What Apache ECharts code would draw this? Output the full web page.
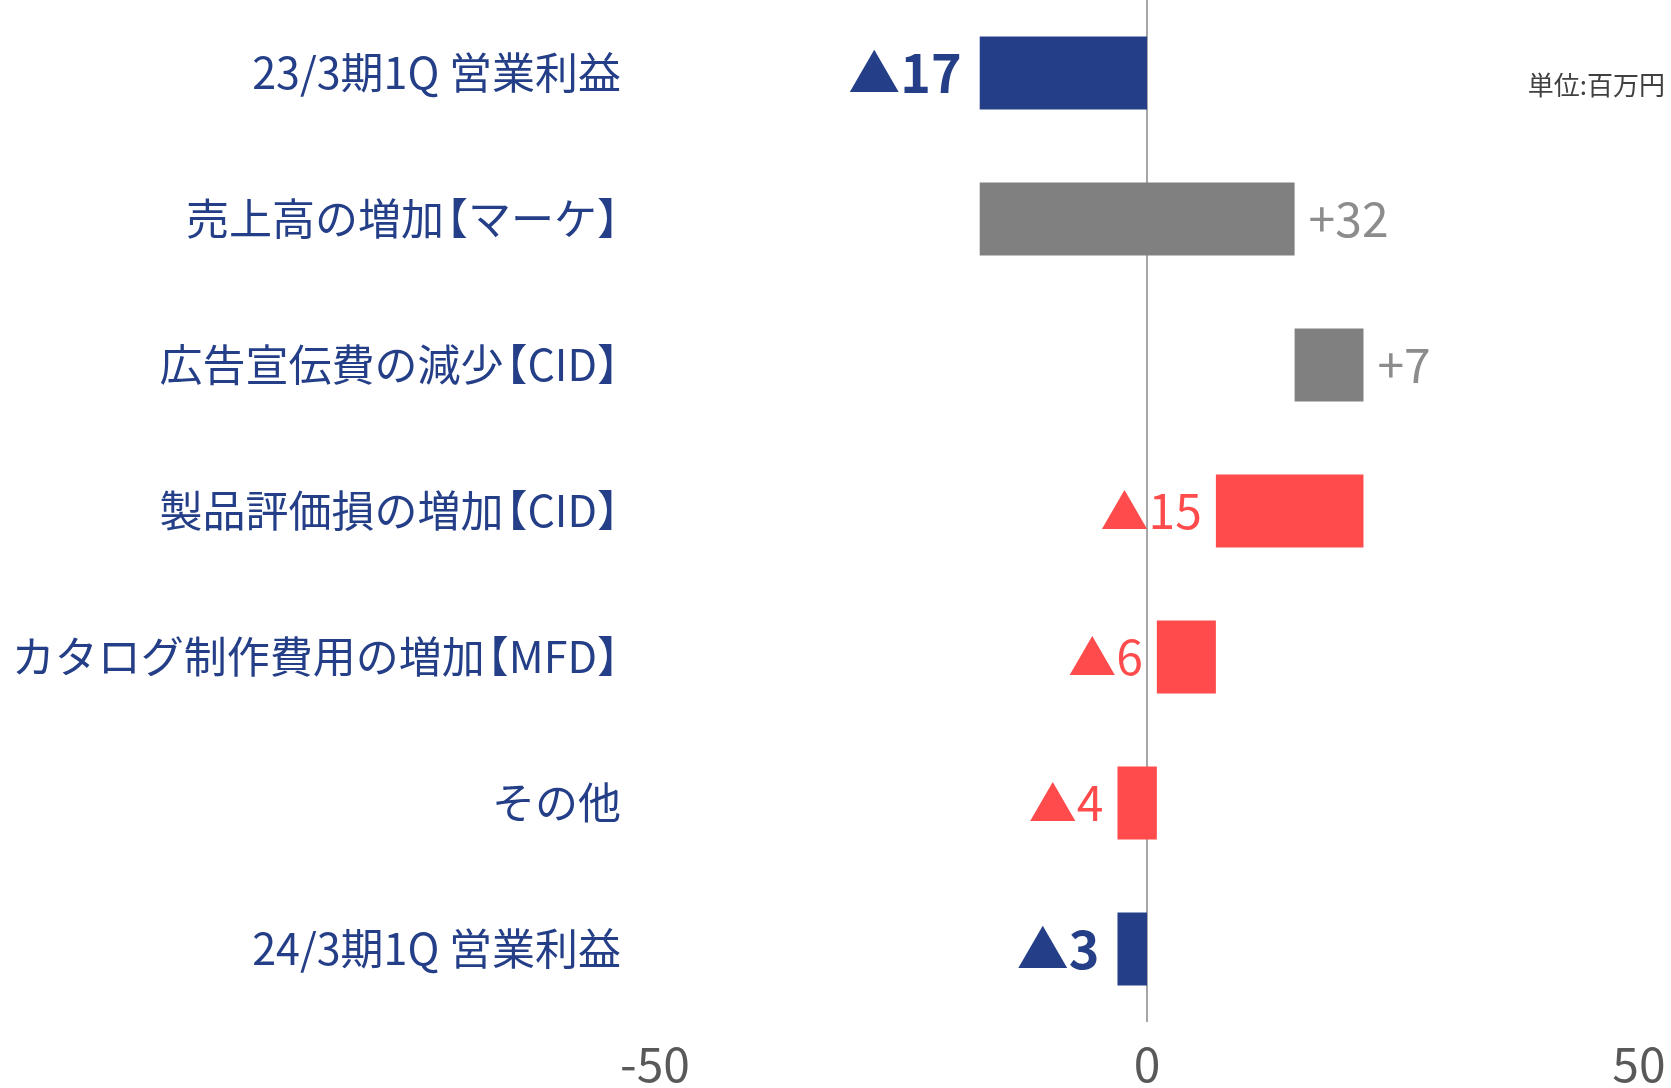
<!DOCTYPE html>
<html>
<head>
<meta charset="utf-8">
<script src="https://cdn.jsdelivr.net/npm/echarts@6/dist/echarts.min.js"></script>
<style>
  html, body { margin: 0; padding: 0; background: #fff; }
  #main { width: 1671px; height: 1088px; }
</style>
</head>
<body>
<div id="main"></div>
<script>
// 項目名
var categories = [
    '23/3期1Q 営業利益',
    '売上高の増加【マーケ】',
    '広告宣伝費の減少【CID】',
    '製品評価損の増加【CID】',
    'カタログ制作費用の増加【MFD】',
    'その他',
    '24/3期1Q 営業利益'
];
// 増減額(百万円)
var changes = [-17, 32, 7, -15, -6, -4, -3];
// total=営業利益, up=増益要因, down=減益要因
var kinds = ['total', 'up', 'up', 'down', 'down', 'down', 'total'];
var xTicks = [-50, 0, 50];

var colors = {total: '#243F87', up: '#808080', down: '#FF4B4B'};
var labelColors = {total: '#243F87', up: '#8C8C8C', down: '#FF4B4B'};
var cjkFont = '"Noto Sans CJK JP", "Noto Sans", sans-serif';
var catSize = 43;

// 積み上げの始点と終点
var rows = [];
var running = 0;
changes.forEach(function (v, i) {
    var start, end;
    if (kinds[i] === 'total') {
        start = 0;
        end = v;
        running = v;
    } else {
        start = running;
        end = running + v;
        running = end;
    }
    var text = v < 0 ? '▲' + Math.abs(v) : '+' + v;
    rows.push([i, start, end, text, kinds[i]]);
});

var myChart = echarts.init(document.getElementById('main'));

function renderItem(params, api) {
    var idx = api.value(0);
    var p1 = api.coord([api.value(1), idx]);
    var p2 = api.coord([api.value(2), idx]);
    var h = api.size([0, 1])[1] * 0.5;
    var kind = rows[params.dataIndex][4];
    var text = rows[params.dataIndex][3];
    var x0 = Math.min(p1[0], p2[0]);
    var x1 = Math.max(p1[0], p2[0]);
    var onLeft = kind !== 'up';
    var gap = kind === 'total' ? 18 : 14;
    return {
        type: 'group',
        children: [{
            type: 'rect',
            shape: {x: x0, y: p1[1] - h / 2, width: x1 - x0, height: h},
            style: {fill: colors[kind]}
        }, {
            type: 'text',
            x: onLeft ? x0 - gap : x1 + gap,
            y: p1[1],
            style: {
                text: text,
                fill: labelColors[kind],
                font: (kind === 'total' ? 'bold 52px ' : 'normal 48px ') + cjkFont,
                align: onLeft ? 'right' : 'left',
                verticalAlign: 'middle'
            }
        }]
    };
}

// 全角括弧の余白を詰める
function tightLabel(value) {
    return value.replace('【', '{lb|【}').replace('】', '{rb|】}');
}

var bracketStyle = {fontSize: catSize, color: '#243F87', fontFamily: cjkFont};
var trim = Math.round(catSize * 0.45);

var option = {
    animation: false,
    title: {
        text: '単位:百万円',
        right: 6,
        top: 72,
        padding: 0,
        textStyle: {
            fontSize: 26,
            fontWeight: 'normal',
            color: '#404040',
            fontFamily: cjkFont
        }
    },
    grid: {
        left: 655,
        right: 32,
        top: 0,
        bottom: 66,
        containLabel: false,
        outerBoundsMode: 'none'
    },
    xAxis: {
        type: 'value',
        min: xTicks[0],
        max: xTicks[xTicks.length - 1],
        interval: 50,
        axisLine: {show: false},
        axisTick: {show: false},
        splitLine: {
            show: true,
            lineStyle: {color: ['rgba(0,0,0,0)', '#A6A6A6', 'rgba(0,0,0,0)'], width: 2}
        },
        axisLabel: {
            fontSize: 48,
            color: '#595959',
            margin: 18,
            fontFamily: cjkFont,
            showMinLabel: true,
            showMaxLabel: true
        }
    },
    yAxis: {
        type: 'category',
        inverse: true,
        data: categories,
        axisLine: {show: false},
        axisTick: {show: false},
        splitLine: {show: false},
        axisLabel: {
            fontSize: catSize,
            color: '#243F87',
            margin: 34,
            fontFamily: cjkFont,
            formatter: tightLabel,
            rich: {
                lb: echarts.util.extend({width: catSize, padding: [0, 0, 0, -trim]}, bracketStyle),
                rb: echarts.util.extend({width: catSize, padding: [0, -trim, 0, 0]}, bracketStyle)
            }
        }
    },
    series: [{
        type: 'custom',
        renderItem: renderItem,
        encode: {x: [1, 2], y: 0},
        data: rows.map(function (r) { return [r[0], r[1], r[2]]; })
    }]
};

myChart.setOption(option);
</script>
</body>
</html>
